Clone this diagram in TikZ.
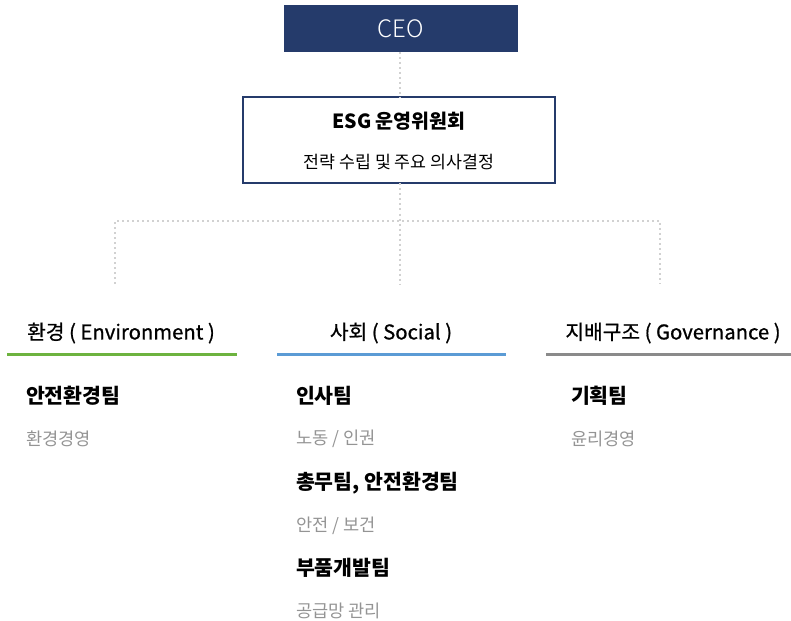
\documentclass[tikz,border=0pt]{standalone}
\usepackage{fontspec}
\setmainfont{Noto Sans CJK KR}
\newfontfamily\krmed{Noto Sans CJK KR}[FakeBold=0.8]
\newfontfamily\krlight{Noto Sans CJK KR Light}
\begin{document}
\begin{tikzpicture}[x=1pt,y=-1pt,
  every node/.style={inner sep=0pt,outer sep=0pt},
  dots/.style={draw=black!18,line width=2pt,dash pattern=on 2pt off 3pt},
  head/.style={font=\krmed\fontsize{20.3}{23}\selectfont,anchor=center},
  team/.style={font=\fontsize{20.5}{23}\selectfont\bfseries,anchor=west},
  task/.style={font=\fontsize{17.6}{20}\selectfont,text=black!42,anchor=west}]
\definecolor{navy}{HTML}{253B6B}
\definecolor{envg}{HTML}{6DB33F}
\definecolor{socb}{HTML}{5B9BD5}
\definecolor{govg}{HTML}{8A8A8A}
\useasboundingbox (0,0) rectangle (791,620);
% CEO
\node[fill=navy,minimum width=234pt,minimum height=47pt,text=white,font=\krlight\fontsize{24}{27}\selectfont] (ceo) at (401,28.5) {CEO};
% ESG committee
\node[draw=navy,line width=2pt,minimum width=312pt,minimum height=86pt] (esg) at (399,140.5) {};
\node[font=\fontsize{19.5}{22}\selectfont\bfseries] (esgt) at (399,121) {ESG 운영위원회};
\node[font=\fontsize{17.3}{20}\selectfont] (esgs) at (399,162) {전략 수립 및 주요 의사결정};
% connectors
\coordinate (j) at (400,221);
\coordinate (l) at (115,221);
\coordinate (r) at (660,221);
\coordinate (le) at (115,284);
\coordinate (me) at (400,284);
\coordinate (re) at (660,284);
\draw[dots] (ceo.south -| j) -- (esg.north -| j);
\draw[dots] (esg.south -| j) -- (me);
\draw[dots] (le) -- (l) -- (r) -- (re);
% headings
\node[head] (h1) at (121,333) {환경 ( Environment )};
\node[head] (h2) at (391,333) {사회 ( Social )};
\node[head] (h3) at (673,333) {지배구조 ( Governance )};
\draw[envg,line width=3pt] (7,354) -- (237,354);
\draw[socb,line width=3pt] (277,354) -- (506,354);
\draw[govg,line width=3pt] (546,354) -- (791,354);
% environment
\node[team] (e1) at (26,396) {안전환경팀};
\node[task] (e1t) at (26,439) {환경경영};
% social
\node[team] (s1) at (296,396) {인사팀};
\node[task] (s1t) at (296,439) {노동 / 인권};
\node[team] (s2) at (296,483) {총무팀, 안전환경팀};
\node[task] (s2t) at (296,526) {안전 / 보건};
\node[team] (s3) at (296,568) {부품개발팀};
\node[task] (s3t) at (296,611) {공급망 관리};
% governance
\node[team] (g1) at (571,396) {기획팀};
\node[task] (g1t) at (571,439) {윤리경영};
\end{tikzpicture}
\end{document}
